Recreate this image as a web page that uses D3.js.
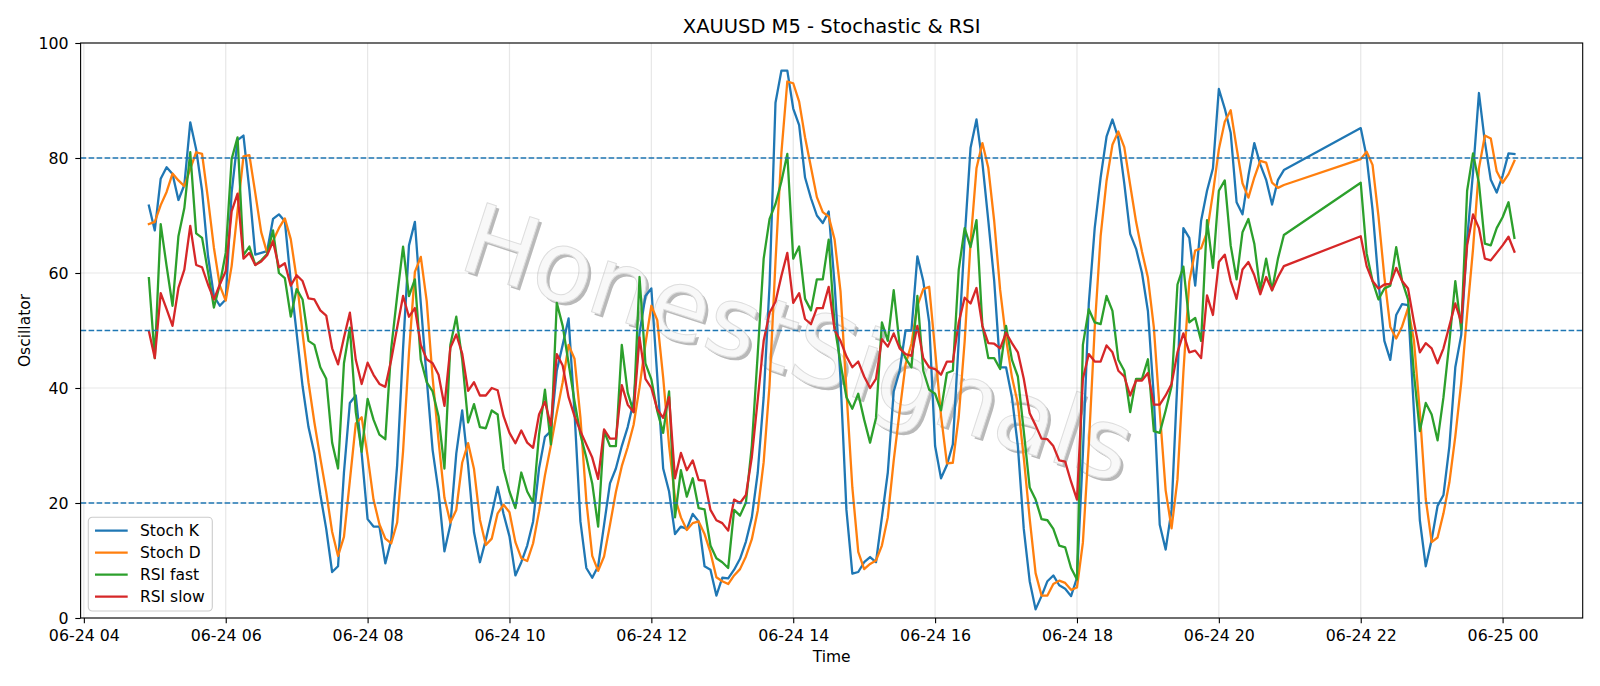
<!DOCTYPE html>
<html>
<head>
<meta charset="utf-8">
<script src="https://cdn.jsdelivr.net/npm/d3@7"></script>
<style>
  body { margin: 0; background: #fff; }
  svg { display: block; font-family: "DejaVu Sans", sans-serif; }
</style>
</head>
<body>
<div id="chart"></div>
<script>
// trading sessions of 5-minute bars (gap = daily break)
const sessions = [
  ["2025-06-24 04:55", "2025-06-24 20:55"],
  ["2025-06-24 22:00", "2025-06-25 00:10"],
];

const seriesNames = ["Stoch K", "Stoch D", "RSI fast", "RSI slow"];
const seriesColors = ["#1f77b4", "#ff7f0e", "#2ca02c", "#d62728"];
const levels = [20, 50, 80];
const yTicks = [0, 20, 40, 60, 80, 100];

const stochK = [
  71.7, 67.4, 76.4, 78.4, 77.2, 72.7, 75.3, 86.2, 81.5, 74.3,
  63, 56, 54.3, 55.4, 74, 83.1, 83.9, 74.5, 63.2, 63.5,
  63.8, 69.4, 70.2, 69, 58.6, 49.5, 40.3, 33.2, 28.6, 21.5,
  15.5, 8, 9, 25.3, 37.4, 38.7, 28.6, 17.2, 15.9, 15.9,
  9.5, 13.6, 26.6, 46.9, 64.8, 68.9, 54.7, 41.6, 29.2, 22,
  11.6, 16.2, 28.6, 36.1, 26.6, 14.9, 9.7, 13.6, 18.1, 22.8,
  18.1, 14.2, 7.4, 9.7, 12.6, 16.8, 26, 31.5, 32.5, 43,
  47.5, 52.1, 35.8, 16.8, 8.7, 7, 9, 16.2, 23.4, 26,
  29.9, 33.2, 37.7, 49.5, 56, 57.3, 42, 26, 22, 14.6,
  15.9, 15.5, 18.1, 16.8, 9, 8.4, 3.9, 7, 6.9, 8.4,
  10.3, 13.3, 17.5, 25.3, 38.4, 58, 89.6, 95.2, 95.2, 88.6,
  85.7, 76.6, 73, 70, 68.7, 70.7, 58, 41.6, 18.8, 7.7,
  8, 9.7, 10.6, 9.7, 17.5, 25.3, 39.4, 43, 50, 50,
  62.9, 58.6, 51.4, 29.9, 24.3, 26.6, 30.2, 48.2, 66, 81.8,
  86.7, 79.2, 69.1, 58.6, 43.6, 43.6, 38.4, 29.9, 15.5, 6.4,
  1.5, 3.8, 6.4, 7.4, 5.7, 5.1, 3.8, 7, 28.6, 54.7,
  67.8, 76.6, 83.7, 86.7, 83.4, 75.6, 66.8, 64.2, 60, 53.4,
  38.4, 16.2, 11.9, 18.8, 41.6, 67.8, 66.1, 57.8, 69.1, 74.3,
  78.2, 92, 88.6, 84.4, 72.3, 70.2, 76.9, 82.6, 78.9, 76.2,
  71.9, 76.2, 77.9,
  85.2, 80.2, 71, 58.6, 48.2, 44.9, 52.7, 54.6, 54.4, 36,
  17, 9, 13.6, 19.5, 21.4, 29.9, 43.6, 49.2, 65.8, 77.5,
  91.3, 82.8, 76.2, 74, 76.9, 80.8, 80.7,
];

const stochD = [
  68.5, 68.9, 71.8, 74.1, 77.3, 76.1, 75.1, 78.1, 81, 80.7,
  72.9, 64.4, 57.8, 55.2, 61.2, 70.8, 80.3, 80.5, 73.9, 67.1,
  63.5, 65.6, 67.8, 69.5, 65.9, 59, 49.5, 41, 34, 27.8,
  21.9, 15, 10.8, 14.1, 23.9, 33.8, 34.9, 28.2, 20.6, 16.3,
  13.8, 13, 16.6, 29, 46.1, 60.2, 62.8, 55.1, 41.8, 30.9,
  20.9, 16.6, 18.8, 27, 30.4, 25.9, 17.1, 12.7, 13.8, 18.2,
  19.7, 18.4, 13.2, 10.4, 9.9, 13, 18.5, 24.8, 30, 35.7,
  41, 47.5, 45.1, 34.9, 20.4, 10.8, 8.2, 10.7, 16.2, 21.9,
  26.4, 29.7, 33.6, 40.1, 47.7, 54.3, 51.8, 41.8, 30, 20.9,
  17.5, 15.3, 16.5, 16.8, 14.6, 11.4, 7.1, 6.4, 5.9, 7.4,
  8.5, 10.7, 13.7, 18.7, 27.1, 40.6, 62, 80.9, 93.3, 93,
  89.8, 83.6, 78.4, 73.2, 70.6, 69.8, 65.8, 56.8, 39.5, 22.7,
  11.5, 8.5, 9.4, 10, 12.6, 17.5, 27.4, 35.9, 44.1, 47.7,
  54.3, 57.2, 57.6, 46.6, 35.2, 26.9, 27, 35, 48.1, 65.3,
  78.2, 82.6, 78.3, 69, 57.1, 48.6, 41.9, 37.3, 27.9, 17.3,
  7.8, 3.9, 3.9, 5.9, 6.5, 6.1, 4.9, 5.3, 13.1, 30.1,
  50.4, 66.4, 76, 82.3, 84.6, 81.9, 75.3, 68.9, 63.7, 59.2,
  50.6, 36, 22.2, 15.6, 24.1, 42.7, 58.5, 63.9, 64.3, 67.1,
  73.9, 81.5, 86.3, 88.3, 81.8, 75.6, 73.1, 76.6, 79.5, 79.2,
  75.7, 74.8, 75.3,
  79.8, 81.1, 78.8, 69.9, 59.3, 50.6, 48.6, 50.7, 53.9, 48.3,
  35.8, 20.7, 13.2, 14, 18.2, 23.6, 31.6, 40.9, 52.9, 64.2,
  78.2, 83.9, 83.4, 77.7, 75.7, 77.2, 79.5,
];

const rsiFast = [
  59.1, 45.2, 68.5, 61.2, 54.3, 66.4, 71.3, 81, 66.9, 66.1,
  60.2, 54, 58, 63.5, 79.8, 83.6, 63.1, 64.6, 61.4, 62.2,
  63.3, 67.4, 60, 59.1, 52.4, 57.2, 55.4, 48.2, 47.5, 43.6,
  41.6, 30.5, 26, 44.3, 50.5, 35.8, 28.9, 38.1, 34.5, 31.9,
  31.1, 46.9, 56, 64.6, 56, 58.9, 44.9, 41, 39.4, 35.1,
  26, 47.5, 52.4, 45, 34, 37.2, 33.2, 33, 36.1, 35.4,
  26, 22, 19.1, 25.3, 22, 20.1, 31.9, 39.7, 30.2, 54.8,
  50.8, 44.3, 37.7, 31.9, 27.9, 23.4, 15.9, 32.5, 29.9, 29.9,
  47.5, 39.2, 35.8, 59.3, 44.3, 41.5, 36, 32.2, 39.4, 17.5,
  25.7, 21.1, 24.3, 19.1, 18.9, 12.6, 10.4, 9.7, 8.7, 18.8,
  17.8, 20.1, 30, 46, 62.5, 69.4, 72, 75.9, 80.7, 62.5,
  64.6, 55.5, 53.5, 58.9, 58.9, 65.8, 50.8, 44.3, 38.4, 36.4,
  39, 34.5, 30.5, 34.8, 51.4, 48.2, 57, 47.5, 45.2, 43.6,
  56, 43, 39.7, 39, 36.1, 42.6, 43, 60.6, 67.8, 64.5,
  69.2, 50.8, 45.2, 45.2, 43.3, 50.8, 44.9, 42, 32.5, 22.7,
  20.6, 17.2, 17, 15.5, 12.6, 12.3, 8.7, 6.7, 47.5, 53.7,
  51.4, 51.1, 56, 53.4, 44.9, 43, 35.8, 41.6, 41.6, 45,
  32.5, 32.2, 36.1, 40.3, 58, 61.1, 51.4, 52.2, 48.2, 69.2,
  60.9, 74.3, 76.1, 64.8, 58.9, 67.1, 69.4, 65.1, 57, 62.5,
  57, 62.5, 66.6,
  75.7, 63.4, 58.6, 55.4, 57.3, 57.8, 64.5, 58.6, 55.4, 42.5,
  32.5, 37.4, 35.4, 30.9, 38.4, 48, 58.6, 50.1, 74.3, 80.8,
  75.6, 65.1, 64.8, 67.8, 69.7, 72.3, 66.1,
];

const rsiSlow = [
  49.9, 45.2, 56.5, 53.7, 50.8, 57.4, 60.6, 68.2, 61.4, 61,
  58, 55.4, 58, 60.3, 70.7, 73.8, 62.5, 63.5, 61.4, 62,
  63.1, 65.5, 61, 61.7, 57.8, 59.6, 58.6, 55.6, 55.4, 53.5,
  52.6, 46.9, 44.1, 48.8, 53.1, 44.9, 40.7, 44.4, 42.3, 40.7,
  40.2, 44.9, 50.5, 56, 52.4, 53.9, 47.5, 45, 44.3, 42.3,
  36.9, 47, 49.3, 46, 39.5, 41, 38.7, 38.7, 40, 39.6,
  35.1, 32.2, 30.4, 32.6, 30.5, 29.6, 35.4, 37.6, 33.5, 45.9,
  43.9, 38.4, 35.1, 32.5, 30.2, 27.9, 24.2, 32.8, 31.2, 31.2,
  40.5, 37.1, 35.8, 48.8, 41.6, 40, 36.3, 34.8, 38.4, 24.3,
  28.7, 25.7, 27.4, 24, 23.9, 18.8, 17, 16.5, 15.2, 20.6,
  20, 21.4, 28, 38, 48.2, 53.1, 55, 59.5, 63.5, 54.8,
  56.5, 52, 51.1, 53.9, 53.9, 57.6, 50.1, 48.2, 45.5, 43.6,
  44.6, 42, 40, 41.6, 48.5, 47.2, 49.5, 46.9, 45.9, 45.6,
  50.8, 45.2, 43.6, 43.3, 42.3, 44.6, 44.6, 51.4, 55.7, 54.7,
  57.4, 50.8, 47.8, 47.7, 46.9, 49.6, 47.8, 46.2, 41.6, 35.6,
  33.5, 31.2, 31.1, 29.9, 27.4, 27.2, 23.7, 20.6, 41.6, 45.9,
  44.6, 44.6, 47.4, 46.2, 43, 42, 38.7, 41.3, 41.3, 42.6,
  37.1, 37.1, 38.7, 40.7, 46.2, 49.5, 46.2, 46.5, 45.2, 56.1,
  52.7, 61.9, 63.2, 58.6, 55.5, 60.6, 61.9, 59.6, 56.3, 59.3,
  57, 59.3, 61.2,
  66.4, 61.2, 58.6, 57.3, 58, 58.1, 60.9, 58.6, 57.3, 51.5,
  46.2, 47.8, 46.9, 44.3, 46.9, 50.8, 54.7, 51.4, 64.8, 70.2,
  67.8, 62.5, 62.2, 63.5, 64.8, 66.3, 63.7,
];

function drawChart() {
  // 1. Dimensions
  const dimensions = {
    width: 1600,
    height: 686,
    margin: { top: 43, right: 17.3, bottom: 68, left: 80.6 },
  };
  dimensions.boundedWidth =
    dimensions.width - dimensions.margin.left - dimensions.margin.right;
  dimensions.boundedHeight =
    dimensions.height - dimensions.margin.top - dimensions.margin.bottom;

  // 2. Data
  const parseTime = d3.timeParse("%Y-%m-%d %H:%M");
  const times = sessions.flatMap(([a, b]) =>
    d3.timeMinute.every(5).range(parseTime(a), d3.timeMinute.offset(parseTime(b), 1)),
  );
  const allValues = [stochK, stochD, rsiFast, rsiSlow];
  const series = seriesNames.map((name, k) => ({
    name,
    color: seriesColors[k],
    points: times.map((t, i) => ({ time: t, value: allValues[k][i] })),
  }));

  // 3. Canvas
  const svg = d3
    .select("#chart")
    .append("svg")
    .attr("width", dimensions.width)
    .attr("height", dimensions.height);

  const bounds = svg
    .append("g")
    .attr("transform", `translate(${dimensions.margin.left},${dimensions.margin.top})`);

  // 4. Scales (matplotlib-like 5% x margins)
  const [t0, t1] = d3.extent(times);
  const pad = (t1 - t0) * 0.05;
  const xScale = d3
    .scaleTime()
    .domain([new Date(+t0 - pad), new Date(+t1 + pad)])
    .range([0, dimensions.boundedWidth]);

  const yScale = d3
    .scaleLinear()
    .domain([0, 100])
    .range([dimensions.boundedHeight, 0]);

  const xTicks = xScale.ticks(d3.timeHour.every(2));

  // watermark (behind everything): grey shadow under a near-white letter
  const wmX = 796 - dimensions.margin.left;
  const wmY = 350 - dimensions.margin.top;
  const wmLayers = [
    { dx: 3, dy: 3, fill: "#b9b9b9" },
    { dx: 0, dy: 0, fill: "#f8f8f8" },
  ];
  bounds
    .append("g")
    .selectAll("text")
    .data(wmLayers)
    .join("text")
    .attr("transform", (d) => `translate(${wmX + d.dx},${wmY + d.dy}) rotate(18)`)
    .attr("font-size", 98)
    .attr("text-anchor", "middle")
    .attr("dominant-baseline", "middle")
    .attr("fill", (d) => d.fill)
    .attr("stroke", (d) => (d.dx ? "none" : "#dddddd"))
    .attr("stroke-width", 1)
    .text("HonestSignals");

  // grid
  const grid = bounds.append("g").attr("class", "grid");
  grid
    .selectAll(".gx")
    .data(xTicks)
    .join("line")
    .attr("x1", (d) => xScale(d))
    .attr("x2", (d) => xScale(d))
    .attr("y1", 0)
    .attr("y2", dimensions.boundedHeight)
    .attr("stroke", "#b0b0b0")
    .attr("stroke-opacity", 0.3)
    .attr("stroke-width", 1.2);
  grid
    .selectAll(".gy")
    .data(yTicks)
    .join("line")
    .attr("x1", 0)
    .attr("x2", dimensions.boundedWidth)
    .attr("y1", (d) => yScale(d))
    .attr("y2", (d) => yScale(d))
    .attr("stroke", "#b0b0b0")
    .attr("stroke-opacity", 0.3)
    .attr("stroke-width", 1.2);

  // 5. Lines
  const lineGenerator = d3
    .line()
    .x((d) => xScale(d.time))
    .y((d) => yScale(d.value));

  bounds
    .append("g")
    .selectAll("path")
    .data(series)
    .join("path")
    .attr("d", (d) => lineGenerator(d.points))
    .attr("fill", "none")
    .attr("stroke", (d) => d.color)
    .attr("stroke-width", 2.3)
    .attr("stroke-linejoin", "round")
    .attr("stroke-linecap", "square");

  // level lines
  bounds
    .append("g")
    .selectAll("line")
    .data(levels)
    .join("line")
    .attr("x1", 0)
    .attr("x2", dimensions.boundedWidth)
    .attr("y1", (d) => yScale(d))
    .attr("y2", (d) => yScale(d))
    .attr("stroke", "#1f77b4")
    .attr("stroke-width", 1.4)
    .attr("stroke-dasharray", "5.6,2.4");

  // 6. Peripherals
  const xAxis = bounds
    .append("g")
    .attr("transform", `translate(0,${dimensions.boundedHeight})`)
    .call(
      d3.axisBottom(xScale)
        .tickValues(xTicks)
        .tickFormat(d3.timeFormat("%m-%d %H"))
        .tickSize(5.3)
        .tickPadding(6.7),
    );
  const yAxis = bounds
    .append("g")
    .call(d3.axisLeft(yScale).tickValues(yTicks).tickSize(5.3).tickPadding(6.7));

  [xAxis, yAxis].forEach((ax) => {
    ax.select(".domain").remove();
    ax.attr("font-family", "DejaVu Sans").attr("font-size", 15.8);
    ax.selectAll(".tick line").attr("stroke", "#000").attr("stroke-width", 1.1);
    ax.selectAll(".tick text").attr("fill", "#000");
  });

  // spines
  bounds
    .append("rect")
    .attr("width", dimensions.boundedWidth)
    .attr("height", dimensions.boundedHeight)
    .attr("fill", "none")
    .attr("stroke", "#000")
    .attr("stroke-width", 1.1);

  svg
    .append("text")
    .attr("x", dimensions.margin.left + dimensions.boundedWidth / 2)
    .attr("y", 33)
    .attr("text-anchor", "middle")
    .attr("font-size", 19.5)
    .text("XAUUSD M5 - Stochastic & RSI");

  svg
    .append("text")
    .attr("x", dimensions.margin.left + dimensions.boundedWidth / 2)
    .attr("y", 661.5)
    .attr("text-anchor", "middle")
    .attr("font-size", 15.5)
    .text("Time");

  svg
    .append("text")
    .attr("transform", `translate(30.2,${dimensions.margin.top + dimensions.boundedHeight / 2}) rotate(-90)`)
    .attr("text-anchor", "middle")
    .attr("font-size", 15.5)
    .text("Oscillator");

  // legend
  const legend = svg.append("g").attr("transform", "translate(88.3,517.3)");
  legend
    .append("rect")
    .attr("width", 124)
    .attr("height", 93.7)
    .attr("rx", 4)
    .attr("fill", "#fff")
    .attr("fill-opacity", 0.8)
    .attr("stroke", "#cccccc")
    .attr("stroke-width", 1.1);
  const items = legend
    .selectAll(".item")
    .data(series)
    .join("g")
    .attr("transform", (d, i) => `translate(0,${13.4 + i * 22})`);
  items
    .append("line")
    .attr("x1", 6.7)
    .attr("x2", 39.4)
    .attr("stroke", (d) => d.color)
    .attr("stroke-width", 2.3);
  items
    .append("text")
    .attr("x", 51.7)
    .attr("y", 5.6)
    .attr("font-size", 15.5)
    .text((d) => d.name);
}

drawChart();
</script>
</body>
</html>
